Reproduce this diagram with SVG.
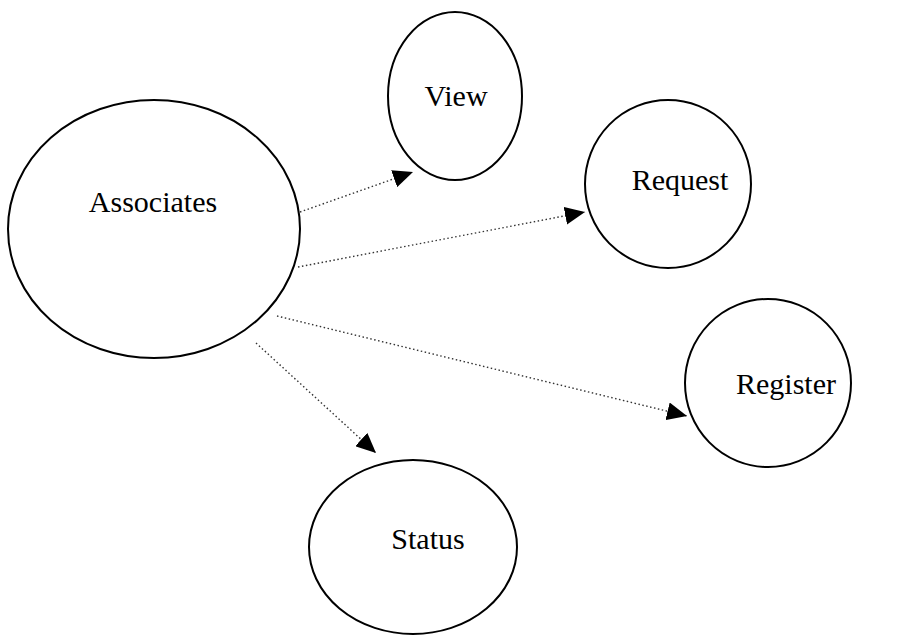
<svg xmlns="http://www.w3.org/2000/svg" width="907" height="640" viewBox="0 0 907 640">
<style>
.node ellipse{fill:#fff;stroke:#000;stroke-width:2}
.node text{font-family:"Liberation Serif","Times New Roman",serif;font-size:30px;fill:#000;text-anchor:middle}
.edge{stroke:#333;stroke-width:1.4;stroke-dasharray:1.5 2.5;fill:none}
</style>
<defs>
<marker id="arr" markerUnits="userSpaceOnUse" markerWidth="22" markerHeight="18" refX="20" refY="9" orient="auto">
<path d="M0,0 L20,9 L0,18 z" fill="#000"/>
</marker>
</defs>
<rect width="907" height="640" fill="#fff"/>
<g id="connectors">
<line class="edge" x1="300" y1="212" x2="413" y2="172" marker-end="url(#arr)"/>
<line class="edge" x1="298" y1="267" x2="585" y2="212" marker-end="url(#arr)"/>
<line class="edge" x1="277" y1="316" x2="687" y2="416" marker-end="url(#arr)"/>
<line class="edge" x1="256" y1="343" x2="376" y2="453" marker-end="url(#arr)"/>
</g>
<g id="associates" class="node">
<ellipse cx="154" cy="229" rx="146" ry="129"/>
<text x="153" y="212">Associates</text>
</g>
<g id="view" class="node">
<ellipse cx="455" cy="96" rx="67" ry="84"/>
<text x="456" y="106">View</text>
</g>
<g id="request" class="node">
<ellipse cx="668" cy="184" rx="83" ry="84"/>
<text x="680" y="190">Request</text>
</g>
<g id="register" class="node">
<ellipse cx="768" cy="383" rx="83" ry="84"/>
<text x="786" y="394">Register</text>
</g>
<g id="status" class="node">
<ellipse cx="413" cy="547" rx="104" ry="87"/>
<text x="428" y="549">Status</text>
</g>
</svg>
